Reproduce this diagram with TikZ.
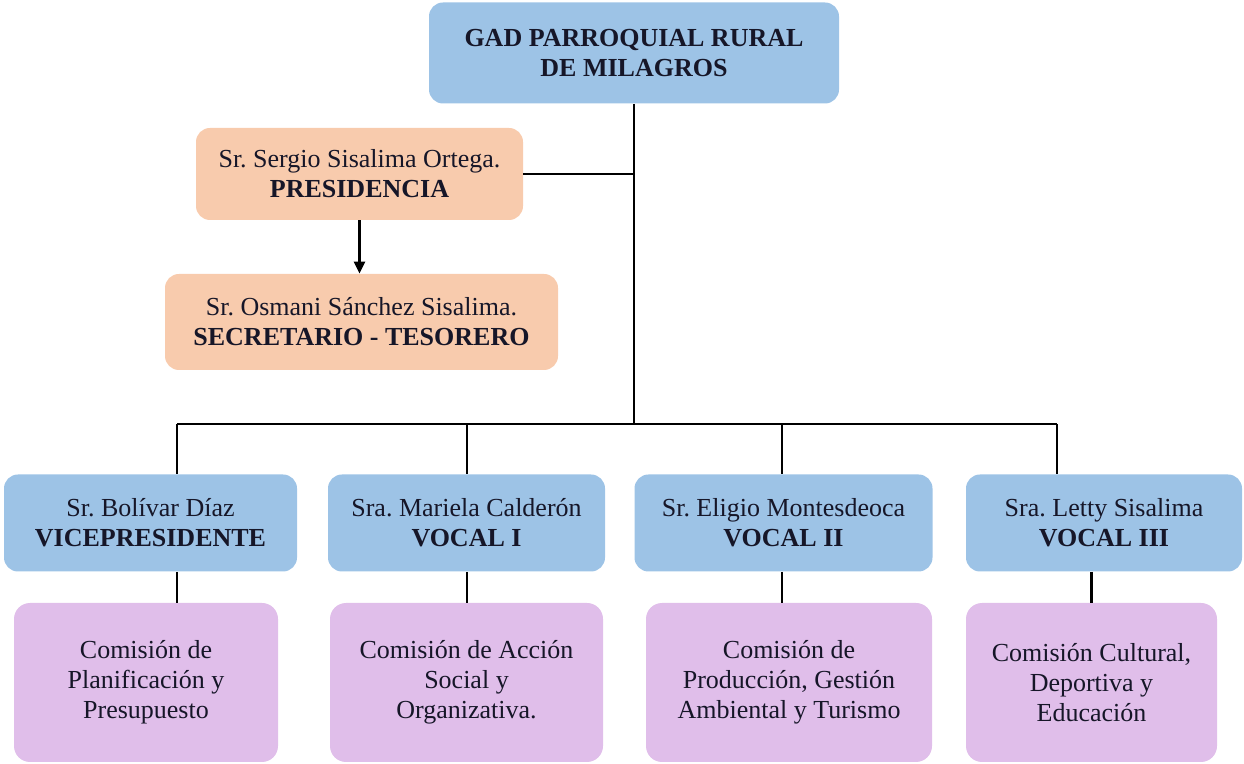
\documentclass[tikz,border=0pt]{standalone}
\usepackage{fontspec}
\setmainfont{Liberation Serif}
\usetikzlibrary{arrows.meta}
\definecolor{orgblue}{RGB}{157,195,230}
\definecolor{orgorange}{RGB}{248,203,173}
\definecolor{orgviolet}{RGB}{224,190,234}
\definecolor{orgtext}{RGB}{22,22,40}
\frenchspacing

\begin{document}
\begin{tikzpicture}[
  x=0.5pt,y=-0.5pt,
  every node/.style={font=\fontsize{13}{15}\selectfont,text=orgtext},
  boxblue/.style={fill=orgblue,rounded corners=7pt,inner sep=0pt,align=center,
                  minimum height=48.5pt},
  boxorange/.style={fill=orgorange,rounded corners=7pt,inner sep=0pt,align=center},
  boxviolet/.style={fill=orgviolet,rounded corners=8pt,inner sep=0pt,align=center,
                    minimum height=79.5pt},
  conn/.style={line width=1.4pt,black},
  arr/.style={-{Triangle[length=6pt,width=5.5pt]},line width=1.4pt,black}]
\useasboundingbox (0,0) rectangle (1244,764);
%--- Top ---
\node[boxblue,minimum width=205pt,minimum height=50.5pt,font=\fontsize{13}{15}\selectfont\bfseries]
  (gad) at (634,53) {GAD PARROQUIAL RURAL\\DE MILAGROS};
\node[boxorange,minimum width=163.5pt,minimum height=46pt] (pres) at (359.5,174)
  {Sr. Sergio Sisalima Ortega.\\\textbf{PRESIDENCIA}};
\node[boxorange,minimum width=196.5pt,minimum height=48pt] (sec) at (361.5,322)
  {Sr. Osmani Sánchez Sisalima.\\\textbf{SECRETARIO - TESORERO}};
%--- Members ---
\node[boxblue,minimum width=146.5pt] (vp) at (150.5,523) {Sr. Bolívar Díaz\\\textbf{VICEPRESIDENTE}};
\node[boxblue,minimum width=138.5pt] (v1) at (466.5,523) {Sra. Mariela Calderón\\\textbf{VOCAL I}};
\node[boxblue,minimum width=149pt]   (v2) at (783.5,523) {Sr. Eligio Montesdeoca\\\textbf{VOCAL II}};
\node[boxblue,minimum width=138pt]   (v3) at (1104,523)  {Sra. Letty Sisalima\\\textbf{VOCAL III}};
%--- Commissions ---
\node[boxviolet,minimum width=132pt]   (c0) at (146,682.5)  {Comisión de\\Planificación y\\Presupuesto};
\node[boxviolet,minimum width=136.5pt] (c1) at (466.5,682.5) {Comisión de Acción\\Social y\\Organizativa.};
\node[boxviolet,minimum width=143pt]   (c2) at (789,682.5)  {Comisión de\\Producción, Gestión\\Ambiental y Turismo};
\node[boxviolet,minimum width=125.5pt] (c3) at (1091.5,682.5) {Comisión Cultural,\\Deportiva y\\Educación};
%--- Bus ---
\coordinate (bus) at (634,424);
\coordinate (d0) at (177,424);
\coordinate (d1) at (467,424);
\coordinate (d2) at (782,424);
\coordinate (d3) at (1057,424);
\draw[conn] (gad.south) -- (bus);
\draw[conn] (pres.east) -- (pres.east -| gad.south);
\draw[arr]  (pres.south) -- (pres.south |- sec.north);
\draw[conn] (d0) -- (d3);
\draw[conn] (d0) -- (d0 |- vp.north);
\draw[conn] (d1) -- (d1 |- v1.north);
\draw[conn] (d2) -- (d2 |- v2.north);
\draw[conn] (d3) -- (d3 |- v3.north);
%--- Lower links ---
\draw[conn] (vp.south -| d0) -- (d0 |- c0.north);
\draw[conn] (v1.south -| d1) -- (d1 |- c1.north);
\draw[conn] (v2.south -| d2) -- (d2 |- c2.north);
\draw[conn] (c3.north |- v3.south) -- (c3.north);
\end{tikzpicture}
\end{document}
